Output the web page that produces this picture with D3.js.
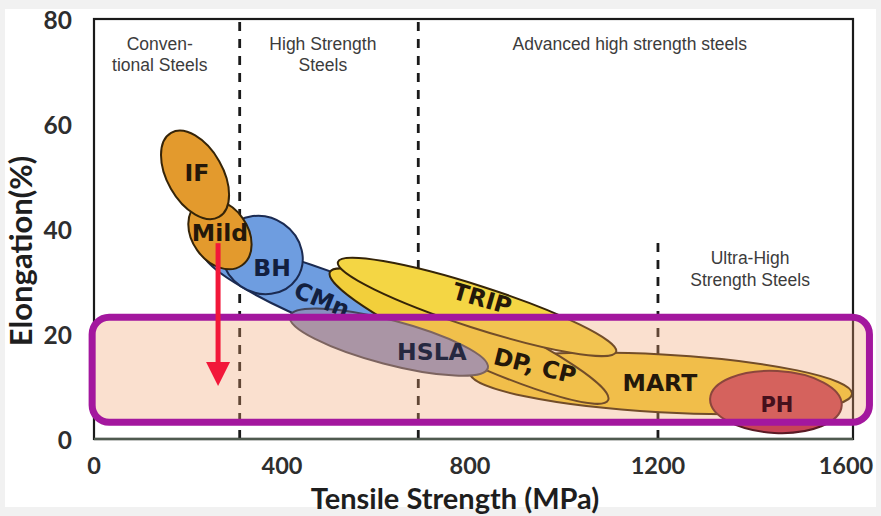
<!DOCTYPE html>
<html>
<head>
<meta charset="utf-8">
<script src="https://cdn.jsdelivr.net/npm/d3@7/dist/d3.min.js"></script>
<style>
  html, body { margin: 0; padding: 0; background: #f1f1f1; }
  svg { display: block; }
</style>
</head>
<body>
<svg id="chart" width="881" height="516"></svg>
<script>
// ---------------- DATA ----------------
const xTicks = [0, 400, 800, 1200, 1600];
const yTicks = [0, 20, 40, 60, 80];

// Steel grade families (drawing order back -> front)
const grades   = ["CMn", "MART", "DP, CP", "TRIP", "HSLA", "BH", "Mild", "IF", "PH"];
// Major axis of each ellipse: start / end point (tensile MPa, elongation %)
const tsStart  = [232, 800,  502,  519,  417, 284, 221, 164, 1311];
const elStart  = [36.0, 12.6, 31.8, 33.7, 23.4, 39.6, 44.9, 58.3, 7.7];
const tsEnd    = [800, 1613, 1094, 1111, 838, 431, 315, 266, 1591];
const elEnd    = [16.0, 8.6, 7.4, 16.6, 13.5, 30.5, 33.1, 42.3, 6.4];
// Half thickness of each ellipse (elongation %)
const halfWidth = [5.1, 5.5, 4.6, 4.0, 4.2, 7.2, 5.3, 5.3, 5.9];
// Label anchor of each grade (tensile MPa, elongation %)
const labelTs  = [485, 1204, 938, 826, 719, 379, 268, 219, 1453];
const labelEl  = [26.5, 10.7, 13.9, 26.7, 16.6, 32.6, 39.2, 50.7, 6.5];

// Steel class boundaries (tensile MPa) and their vertical extent (elongation %)
const dividerTs    = [310, 690, 1200];
const dividerElTop = [80, 80, 37.5];

// Class names (lines), anchor (tensile MPa, elongation % of first line)
const classLines = [["Conven-", "tional Steels"], ["High Strength", "Steels"], ["Advanced high strength steels"], ["Ultra-High", "Strength Steels"]];
const classTs    = [140, 487, 1140, 1396];
const classEl    = [74.1, 74.1, 74.1, 33.3];

// Highlighted band (tensile MPa range, elongation % range)
const bandTs = [-4, 1650];
const bandEl = [3.2, 23.2];

// Red arrow (tensile MPa, elongation % from -> to)
const arrowTs = 264;
const arrowEl = [37.3, 10.1];

// ---------------- STYLES ----------------
const fills = {"IF":"#E39A2D","Mild":"#E39A2D","BH":"#6E9DE0","CMn":"#6E9DE0","HSLA":"#8890C0",
               "DP, CP":"#F2CF3B","TRIP":"#F4D644","MART":"#F2CD3A","PH":"#C84456"};
const strokes = {"IF":"#352408","Mild":"#352408","BH":"#1b2b52","CMn":"#1b2b52","HSLA":"#44465a",
               "DP, CP":"#352408","TRIP":"#352408","MART":"#352408","PH":"#5a1a25"};
const textCol = {"IF":"#24180a","Mild":"#24180a","BH":"#13203f","CMn":"#13203f","HSLA":"#262840",
               "DP, CP":"#24180a","TRIP":"#24180a","MART":"#24180a","PH":"#44101c"};
const labelRot = {"CMn":22, "TRIP":16, "DP, CP":14};
const labelSize = {"PH":21};

// ---------------- CHART ----------------
const svg = d3.select("#chart");
svg.append("rect").attr("x", 5).attr("y", 9).attr("width", 871).attr("height", 498).attr("fill", "#ffffff");

const x = d3.scaleLinear().domain([0, 1615]).range([94, 853]);
const y = d3.scaleLinear().domain([0, 80]).range([439, 19]);

// dividers
svg.append("g").selectAll("line").data(dividerTs).join("line")
  .attr("x1", d => x(d)).attr("x2", d => x(d))
  .attr("y1", y(0)).attr("y2", (d, i) => y(dividerElTop[i]))
  .attr("stroke", "#1a1a1a").attr("stroke-width", 2.8).attr("stroke-dasharray", "9,8");

// ellipses
const ell = grades.map((g, i) => {
  const x1 = x(tsStart[i]), y1 = y(elStart[i]), x2 = x(tsEnd[i]), y2 = y(elEnd[i]);
  const cx = (x1 + x2) / 2, cy = (y1 + y2) / 2;
  const rx = Math.hypot(x2 - x1, y2 - y1) / 2;
  const ry = y(0) - y(halfWidth[i]);
  const ang = Math.atan2(y2 - y1, x2 - x1) * 180 / Math.PI;
  return {g, cx, cy, rx, ry, ang};
});
svg.append("g").selectAll("ellipse").data(ell).join("ellipse")
  .attr("cx", 0).attr("cy", 0).attr("rx", d => d.rx).attr("ry", d => d.ry)
  .attr("transform", d => `translate(${d.cx},${d.cy}) rotate(${d.ang})`)
  .attr("fill", d => fills[d.g]).attr("stroke", d => strokes[d.g]).attr("stroke-width", 2);

// frame
svg.append("rect").attr("x", x(0)).attr("y", y(80)).attr("width", x(1615) - x(0)).attr("height", y(0) - y(80))
  .attr("fill", "none").attr("stroke", "#1a1a1a").attr("stroke-width", 2.2);
svg.append("line").attr("x1", x(0)).attr("x2", x(1615)).attr("y1", y(0)).attr("y2", y(0))
  .attr("stroke", "#4f5a4f").attr("stroke-width", 2.4);

// highlighted band (fill)
const band = {
  x: x(bandTs[0]), y: y(bandEl[1]),
  w: x(bandTs[1]) - x(bandTs[0]), h: y(bandEl[0]) - y(bandEl[1])
};
svg.append("rect")
  .attr("x", band.x).attr("y", band.y).attr("width", band.w).attr("height", band.h)
  .attr("rx", 17).attr("ry", 17)
  .attr("fill", "#F0A06E").attr("fill-opacity", 0.33);

// grade labels
svg.append("g").selectAll("text").data(grades).join("text")
  .attr("transform", (d, i) => `translate(${x(labelTs[i])},${y(labelEl[i])}) rotate(${labelRot[d] || 0})`)
  .attr("text-anchor", "middle").attr("dominant-baseline", "central")
  .attr("font-family", "DejaVu Sans").attr("font-weight", "bold")
  .attr("font-size", d => labelSize[d] || 23.5)
  .attr("fill", d => textCol[d]).text(d => d);

// class labels
classLines.forEach((lines, i) => {
  const t = svg.append("text").attr("text-anchor", "middle")
    .attr("font-family", "Liberation Sans, Arial, sans-serif").attr("font-size", 17.5).attr("fill", "#3c3c3c");
  lines.forEach((ln, k) => {
    t.append("tspan").attr("x", x(classTs[i])).attr("y", y(classEl[i]) + k * 21.5).text(ln);
  });
});

// highlighted band (outline)
svg.append("rect")
  .attr("x", band.x).attr("y", band.y).attr("width", band.w).attr("height", band.h)
  .attr("rx", 17).attr("ry", 17)
  .attr("fill", "none").attr("stroke", "#A3179E").attr("stroke-width", 7);

// arrow
const ax = x(arrowTs), ay1 = y(arrowEl[0]), ay2 = y(arrowEl[1]);
svg.append("line").attr("x1", ax).attr("x2", ax).attr("y1", ay1).attr("y2", ay2 - 20)
  .attr("stroke", "#F2183A").attr("stroke-width", 5);
svg.append("path").attr("d", `M${ax - 12},${ay2 - 24} L${ax + 12},${ay2 - 24} L${ax},${ay2} Z`).attr("fill", "#F2183A");

// axes tick labels
svg.append("g").selectAll("text").data(yTicks).join("text")
  .attr("x", 72).attr("y", d => y(d)).attr("text-anchor", "end").attr("dominant-baseline", "central")
  .attr("font-family", "Lato").attr("font-weight", "bold").attr("font-size", 24.5).attr("fill", "#2e2e2e")
  .text(d => d);
svg.append("g").selectAll("text").data(xTicks).join("text")
  .attr("x", d => x(d)).attr("y", 465).attr("text-anchor", "middle").attr("dominant-baseline", "central")
  .attr("font-family", "Lato").attr("font-weight", "bold").attr("font-size", 23.5).attr("fill", "#2e2e2e")
  .text(d => d);

// axis titles
svg.append("text").attr("x", 455).attr("y", 509).attr("text-anchor", "middle")
  .attr("font-family", "Lato").attr("font-weight", "bold").attr("font-size", 29).attr("fill", "#1e1e1e")
  .text("Tensile Strength (MPa)");
svg.append("text").attr("transform", "translate(32,251) rotate(-90)").attr("text-anchor", "middle")
  .attr("font-family", "Lato").attr("font-weight", "bold").attr("font-size", 31).attr("fill", "#1e1e1e")
  .text("Elongation(%)");
</script>
</body>
</html>
